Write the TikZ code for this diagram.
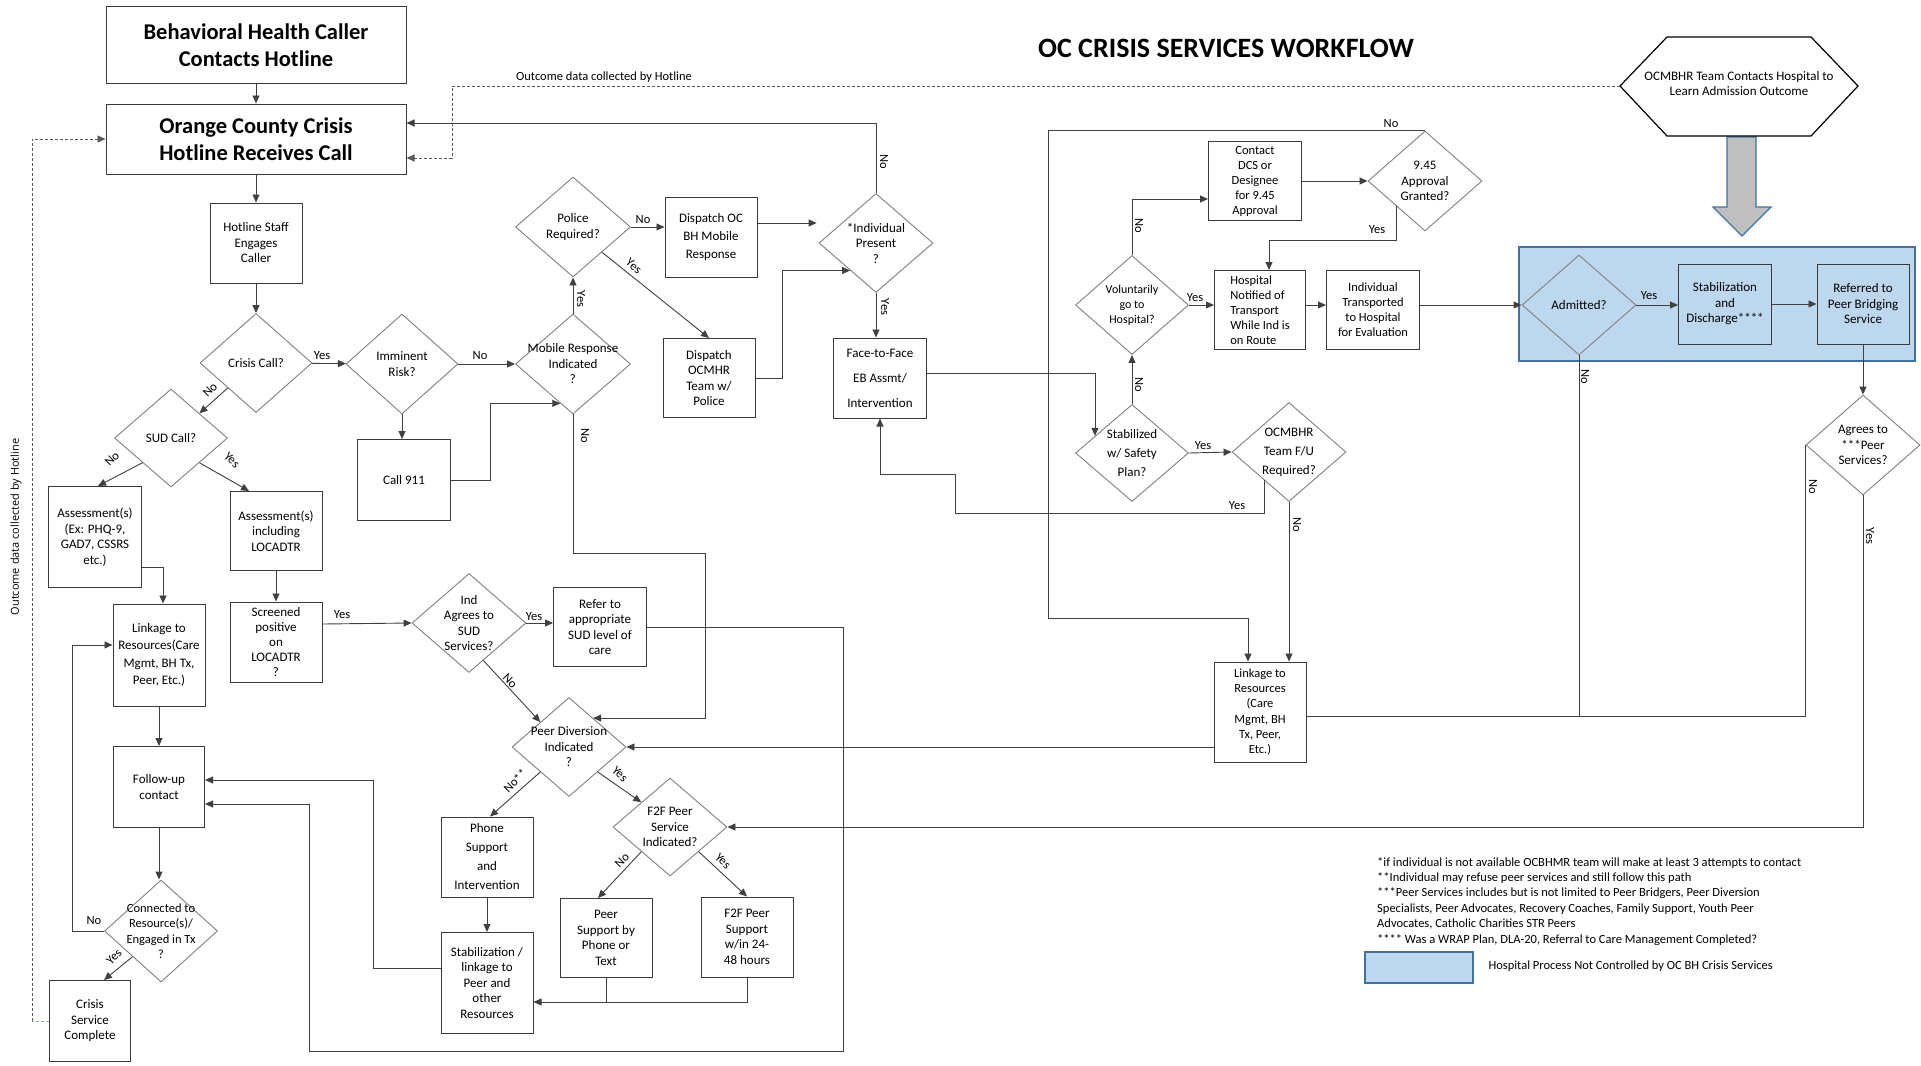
\documentclass[tikz,border=0pt]{standalone}
\usepackage{fontspec}
\setmainfont{Carlito}
\newfontfamily\sidefont{Open Sans}
\usetikzlibrary{shapes.geometric,arrows.meta,calc}
\definecolor{boxc}{HTML}{3A3A3A}
\definecolor{diac}{HTML}{808080}
\definecolor{linec}{HTML}{404040}
\definecolor{hospfill}{HTML}{BDD7EE}
\definecolor{hospedge}{HTML}{41719C}
\definecolor{bigarrow}{HTML}{BFBFBF}
\definecolor{dashc}{HTML}{595959}
\definecolor{dashblue}{HTML}{8FAADC}
\newcommand\fsz[2]{\fontsize{#1}{#2}\selectfont}
\begin{document}
\begin{tikzpicture}[x=1pt,y=-1pt,
  bx/.style 2 args={draw=boxc, line width=1pt, minimum width=#1, minimum height=#2,
    inner sep=1pt, align=center, font=\fsz{13}{15.5}},
  dm/.style 2 args={diamond, draw=diac, line width=0.9pt, minimum width=#1, minimum height=#2,
    inner xsep=-18pt, inner ysep=-5pt, align=center, font=\fsz{13}{15.5}},
  conn/.style={draw=linec, line width=0.9pt},
  arr/.style={conn, -{Triangle[length=8pt,width=7pt]}},
  dashln/.style={draw=dashc, line width=0.8pt, dash pattern=on 3pt off 2pt},
  lab/.style={font=\fsz{12.5}{14}, inner sep=1pt}]

\fill[white] (0,0) rectangle (1921,1065);
\useasboundingbox (0,0) rectangle (1921,1065);

% hospital area and big arrow
\draw[draw=hospedge, fill=hospfill, line width=1.3pt] (1519,247) rectangle (1915,361);
\draw[draw=hospedge, fill=bigarrow, line width=1.2pt] (1727,137) -- (1756,137) -- (1756,207)
  -- (1771,207) -- (1742,236) -- (1713,207) -- (1727,207) -- cycle;

% title
\node[font=\fsz{28}{32}\bfseries] (title) at (1226,48) {OC CRISIS SERVICES WORKFLOW};

% hotline column
\node[bx={300pt}{76pt}, font=\fsz{22.5}{27}\bfseries] (bh) at (256,45) {Behavioral Health Caller\\Contacts Hotline};
\node[bx={300pt}{70pt}, font=\fsz{22.5}{27}\bfseries] (oc) at (256,139) {Orange County Crisis\\Hotline Receives Call};
\node[bx={92pt}{80pt}] (hs) at (256,243) {Hotline Staff\\Engages\\Caller};
\node[dm={112pt}{99pt}] (crisis) at (256,363) {Crisis Call?};
\node[dm={112pt}{100pt}] (imm) at (402,364) {Imminent\\Risk?};
\node[dm={115pt}{100pt}] (mob) at (573,364) {Mobile Response\\Indicated\\?};
\node[dm={115pt}{100pt}] (pol) at (573,227) {Police\\Required?};
\node[bx={92pt}{80pt}, font=\fsz{13}{18}] (dispoc) at (711,237) {Dispatch OC\\BH Mobile\\Response};
\node[bx={92pt}{79pt}] (dispmhr) at (709,378) {Dispatch\\OCMHR\\Team w/\\Police};
\node[dm={114pt}{99pt}] (indiv) at (876,243) {*Individual\\Present\\?};
\node[bx={93pt}{80pt}, font=\fsz{13}{25}] (ftf) at (880,378) {Face-to-Face\\EB Assmt/\\Intervention};
\node[bx={93pt}{81pt}] (call) at (404,480) {Call 911};
\node[dm={113pt}{98pt}] (sud) at (171,438) {SUD Call?};
\node[bx={93pt}{101pt}] (asA) at (95,537) {Assessment(s)\\(Ex: PHQ-9,\\GAD7, CSSRS\\etc.)};
\node[bx={92pt}{79pt}] (asB) at (276,531) {Assessment(s)\\including\\LOCADTR};
\node[bx={92pt}{102pt}, font=\fsz{13}{17.5}] (linkA) at (159,655) {Linkage to\\Resources(Care\\Mgmt, BH Tx,\\Peer, Etc.)};
\node[bx={92pt}{80pt}, font=\fsz{13}{15}] (scr) at (276,642) {Screened\\positive\\on\\LOCADTR\\?};
\node[dm={114pt}{99pt}] (agree) at (469,623) {Ind\\Agrees to\\SUD\\Services?};
\node[bx={93pt}{79pt}] (refer) at (600,627) {Refer to\\appropriate\\SUD level of\\care};
\node[dm={114pt}{99pt}] (peer) at (569,747) {Peer Diversion\\Indicated\\?};
\node[bx={92pt}{80pt}, font=\fsz{13}{19}] (phone) at (487,857) {Phone\\Support\\and\\Intervention};
\node[bx={92pt}{101pt}] (stabA) at (487,983) {Stabilization /\\linkage to\\Peer and\\other\\Resources};
\node[dm={114pt}{98pt}] (ffq) at (670,827) {F2F Peer\\Service\\Indicated?};
\node[bx={92pt}{79pt}] (pph) at (606,938) {Peer\\Support by\\Phone or\\Text};
\node[bx={92pt}{80pt}] (pff) at (747,937) {F2F Peer\\Support\\w/in 24-\\48 hours};
\node[bx={91pt}{81pt}] (fup) at (159,787) {Follow-up\\contact};
\node[dm={113pt}{102pt}, font=\fsz{12.5}{15.5}] (conn) at (161,931) {Connected to\\Resource(s)/\\Engaged in Tx\\?};
\node[bx={81pt}{81pt}] (done) at (90,1021) {Crisis\\Service\\Complete};

% hospital side
\node[dm={113pt}{97pt}, font=\fsz{13}{19}] (stq) at (1132,453) {Stabilized\\w/ Safety\\Plan?};
\node[dm={114pt}{99pt}, font=\fsz{13}{19}] (fuq) at (1289,452) {OCMBHR\\Team F/U\\Required?};
\node[dm={113pt}{99pt}, font=\fsz{12}{15}] (vol) at (1132,305) {Voluntarily\\go to\\Hospital?};
\node[bx={93pt}{79pt}, font=\fsz{12.5}{15}] (dcs) at (1255,181) {Contact\\DCS or\\Designee\\for 9.45\\Approval};
\node[dm={114pt}{100pt}] (appr) at (1425,181) {9.45\\Approval\\Granted?};
\node[bx={91pt}{79pt}, font=\fsz{12.5}{15}, align=left] (hosp) at (1260,310) {Hospital\\Notified of\\Transport\\While Ind is\\on Route};
\node[bx={93pt}{79pt}, font=\fsz{12.5}{15}] (trans) at (1373,310) {Individual\\Transported\\to Hospital\\for Evaluation};
\node[bx={92pt}{100pt}, font=\fsz{12.5}{15.3}] (linkB) at (1260,712) {Linkage to\\Resources\\(Care\\Mgmt, BH\\Tx, Peer,\\Etc.)};
\node[dm={114pt}{100pt}] (adm) at (1579,305) {Admitted?};
\node[bx={93pt}{80pt}] (sdis) at (1725,304) {Stabilization\\and\\Discharge****};
\node[bx={92pt}{80pt}] (refpb) at (1863,304) {Referred to\\Peer Bridging\\Service};
\node[dm={114pt}{100pt}] (agq) at (1863,445) {Agrees to\\***Peer\\Services?};

% hexagon
\draw[line width=1.2pt] (1620,86) -- (1667,37) -- (1811,37) -- (1858,86) -- (1811,136) -- (1667,136) -- cycle;
\node[font=\fsz{13}{15}, align=center] (hex) at (1739,84) {OCMBHR Team Contacts Hospital to\\Learn Admission Outcome};
\coordinate (hexL) at (1620,86);

% connectors: hotline column
\draw[arr] (bh) -- (oc);
\draw[arr] (oc) -- (hs);
\draw[arr] (hs) -- (crisis);
\draw[arr] (crisis) -- (imm);
\draw[arr] (imm) -- (mob);
\draw[arr] (imm.south) -- (imm.south |- call.north);
\draw[arr] (call.east) -- ++(39,0) |- ($(mob.west)!0.78!(mob.south)$);
\draw[arr] (mob) -- (pol);
\draw[arr] (pol.east) -- (pol.east -| dispoc.west);
\draw[arr] (pol.south east) -- (dispmhr.north);
\draw[arr] ($(dispoc.east)+(0,-14)$) -- ($(indiv.west)+(-2,-20)$);
\draw[arr] (dispmhr.east) -- ++(27,0) |- ($(indiv.west)!0.55!(indiv.south)$);
\draw[arr] (indiv.south) -- (indiv.south |- ftf.north);
\draw[arr] (indiv.north) |- ($(oc.east)+(0,-16)$);
\coordinate (pdUR) at ($(peer.north)!0.42!(peer.east)$);
\draw[arr] (mob.south) -- ++(0,139) -| ($(pdUR)+(112,0)$) -- (pdUR);
\draw[arr] (crisis.south west) -- (sud.north east);
\draw[arr] (sud.south west) -- ($(asA.north)+(3,0)$);
\draw[arr] (sud.south east) -- ($(asB.north)+(-27,0)$);
\draw[arr] ($(asA.east)+(0,30)$) -| ($(linkA.north)+(4,0)$);
\draw[arr] (asB) -- (scr);
\draw[arr] ($(scr.east)+(0,-18)$) -- (agree.west);
\draw[arr] (agree.east) -- (agree.east -| refer.west);
\draw[arr] ($(agree.east)!0.75!(agree.south)$) -- ($(peer.north)!0.5!(peer.west)$);
\draw[arr] (refer.east) -- (843,627) -- (843,1051) -| (309,804) -- ($(fup.east)+(0,17)$);
\draw[arr] (peer.south west) -- ($(phone.north)+(3,0)$);
\draw[arr] (phone) -- (stabA);
\draw[arr] (peer.south east) -- ($(ffq.north)!0.5!(ffq.west)$);
\draw[arr] (ffq.south west) -- ($(pph.north)+(-8,0)$);
\draw[arr] (ffq.south east) -- (pff.north);
\draw[conn] (pph.south) -- ++(0,25);
\draw[arr] (pff.south) |- ($(stabA.east)+(0,19)$);
\draw[arr] ($(stabA.west)+(0,-15)$) -| (373,780) -- ($(fup.east)+(0,-7)$);
\draw[arr] (linkA) -- (fup);
\draw[arr] (fup.south) -- (fup.south |- conn.north);
\draw[arr] (conn.west) -- ++(-32,0) |- ($(linkA.west)+(0,-10)$);
\draw[arr] (conn.south west) -- ($(done.north)+(14,0)$);

% outcome data feedback (dashed)
\draw[draw=dashblue, line width=0.8pt, dash pattern=on 3pt off 2pt] (done.west) -- ++(-17,0);
\draw[dashln, -{Triangle[length=8pt,width=7pt]}] ($(done.west)+(-17,0)$) |- (oc.west);
\draw[dashln, -{Triangle[length=8pt,width=7pt]}] (hexL) -| (452,158) -- ($(oc.east)+(0,19)$);

% connectors: hospital side
\draw[arr] ($(ftf.east)+(0,-5)$) -| ($(stq.west)!0.35!(stq.north)$);
\draw[arr] (stq.east) -- (fuq.west);
\draw[arr] (stq) -- (vol);
\draw[arr] ($(fuq.west)!0.57!(fuq.south)$) -- ++(0,33) -| (955,474) -| (ftf.south);
\draw[arr] (fuq.south) -- (fuq.south |- linkB.north);
\draw[arr] (vol.north) |- ($(dcs.west)+(0,18)$);
\draw[arr] (dcs.east) -- (dcs.east -| appr.west);
\draw[arr] ($(appr.west)!0.5!(appr.south)$) -- ++(0,34) -| ($(hosp.north)+(9,0)$);
\draw[arr] (appr.north) -| (1048,618) -| ($(linkB.north)+(-12,0)$);
\draw[arr] (vol.east) -- (vol.east -| hosp.west);
\draw[arr] ($(hosp.east)+(0,-5)$) -- ($(trans.west)+(0,-5)$);
\draw[arr] ($(trans.east)+(0,-5)$) -- (adm.west);
\draw[arr] (adm.east) -- (adm.east -| sdis.west);
\draw[arr] (sdis) -- (refpb);
\draw[arr] (refpb) -- (agq);
\draw[conn] (adm.south) -- (adm.south |- 0,716);
\draw[conn] (agq.west) -- (agq.west |- 0,716) -- ($(linkB.east)+(0,4)$);
\draw[arr] (agq.south) |- (ffq.east);
\draw[arr] ($(linkB.west)+(0,35)$) -- (peer.east);

% branch labels
\node[lab] (l1) at (322,356) {Yes};
\node[lab] (l2) at (480,356) {No};
\node[lab, rotate=-90] (l3) at (581,299) {Yes};
\node[lab] (l4) at (643,220) {No};
\node[lab, rotate=-40] (l5) at (634,266) {Yes};
\node[lab, rotate=-90] (l6) at (585,436) {No};
\node[lab, rotate=45] (l7) at (210,390) {No};
\node[lab, rotate=45] (l8) at (112,459) {No};
\node[lab, rotate=-45] (l9) at (232,460) {Yes};
\node[lab] (l10) at (342,615) {Yes};
\node[lab] (l11) at (534,617) {Yes};
\node[lab, rotate=-45] (l12) at (510,681) {No};
\node[lab, rotate=45] (l13) at (515,781) {No**};
\node[lab, rotate=-45] (l14) at (620,774) {Yes};
\node[lab, rotate=45] (l15) at (622,860) {No};
\node[lab, rotate=-45] (l16) at (723,861) {Yes};
\node[lab] (l17) at (94,921) {No};
\node[lab, rotate=45] (l18) at (114,957) {Yes};
\node[lab, rotate=-90] (l19) at (885,307) {Yes};
\node[lab, rotate=-90] (l20) at (884,162) {No};
\node[lab] (l21) at (1203,446) {Yes};
\node[lab, rotate=-90] (l22) at (1139,385) {No};
\node[lab] (l23) at (1237,506) {Yes};
\node[lab, rotate=-90] (l24) at (1297,525) {No};
\node[lab, rotate=-90] (l25) at (1139,226) {No};
\node[lab] (l26) at (1195,298) {Yes};
\node[lab] (l27) at (1377,230) {Yes};
\node[lab] (l28) at (1391,124) {No};
\node[lab] (l29) at (1649,296) {Yes};
\node[lab, rotate=-90] (l30) at (1585,377) {No};
\node[lab, rotate=-90] (l31) at (1813,487) {No};
\node[lab, rotate=-90] (l32) at (1870,536) {Yes};

% outcome data captions
\node[font=\fsz{12.5}{14}] (outc) at (604,77) {Outcome data collected by Hotline};
\node[font=\sidefont\fsz{11}{13}, rotate=90] (outcv) at (16,527) {Outcome data collected by Hotline};

% notes and key
\node[font=\fsz{12.5}{15.4}, align=left, anchor=north west, inner sep=0pt] (notes) at (1377,857)
 {*if individual is not available OCBHMR team will make at least 3 attempts to contact\\
  **Individual may refuse peer services and still follow this path\\
  ***Peer Services includes but is not limited to Peer Bridgers, Peer Diversion\\
  Specialists, Peer Advocates, Recovery Coaches, Family Support, Youth Peer\\
  Advocates, Catholic Charities STR Peers\\
  **** Was a WRAP Plan, DLA-20, Referral to Care Management Completed?};
\node[draw=hospedge, fill=hospfill, line width=1.2pt, minimum width=108pt, minimum height=31pt] (swatch) at (1419,967.5) {};
\node[font=\fsz{12.5}{15}, anchor=west] (swlab) at (1485,966) {Hospital Process Not Controlled by OC BH Crisis Services};
\end{tikzpicture}
\end{document}
